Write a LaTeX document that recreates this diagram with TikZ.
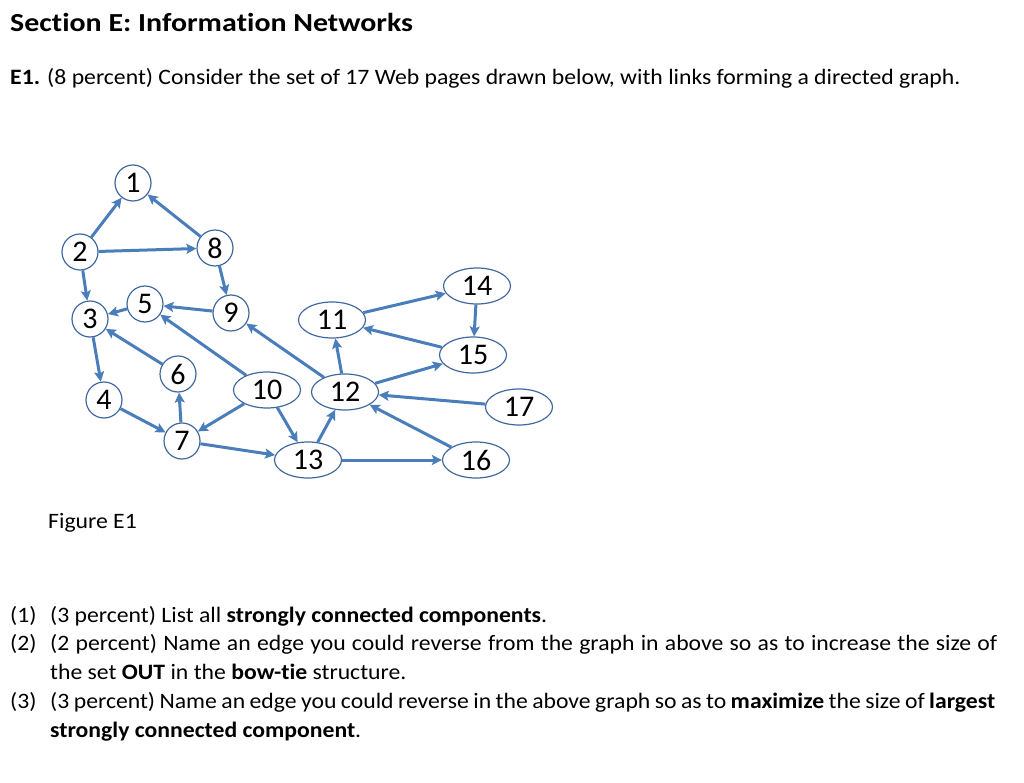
\documentclass[tikz,border=0pt]{standalone}
\usepackage{fontspec}
\setmainfont{Carlito}[FakeStretch=1.077,Ligatures=CommonOff]
\newfontfamily\headfont{Carlito}[FakeStretch=1.15,Ligatures=CommonOff]
\newfontfamily\digitfont{Carlito}
\usetikzlibrary{arrows.meta,shapes.geometric}
\definecolor{linkblue}{RGB}{74,126,187}
\definecolor{rimblue}{RGB}{65,105,160}
\tikzset{
  pagecirc/.style={circle, draw=rimblue, line width=1.2pt, fill=white,
    minimum size=36pt, inner sep=0pt, font=\digitfont\fontsize{30}{30}\selectfont},
  pageell/.style={ellipse, draw=rimblue, line width=1.2pt, fill=white,
    minimum width=67pt, minimum height=36pt, inner sep=0pt, font=\digitfont\fontsize{30}{30}\selectfont},
  link/.style={draw=linkblue, line width=3pt, -{Stealth[length=10pt,width=10pt,inset=2pt]}},
  txt/.style={anchor=base west, inner sep=0pt, font=\fontsize{22}{26}\selectfont}
}
\begin{document}
\begin{tikzpicture}[x=1pt,y=-1pt]
  \useasboundingbox[fill=white] (0,0) rectangle (1024,783);

  % Heading and question
  \node[txt, font=\headfont\fontsize{26}{30}\selectfont\bfseries] (title) at (10,32) {Section E: Informa\kern0pt tion Networks};
  \node[txt] (intro) at (10,85) {\textbf{E1.} (8 percent) Consider the set of 17 Web pages drawn below, with links forming a directed graph.};

  % Pages
  \node[pagecirc] (n1) at (133,183) {1};
  \node[pagecirc] (n2) at (80,252) {2};
  \node[pagecirc] (n8) at (215,248) {8};
  \node[pagecirc] (n3) at (90,319) {3};
  \node[pagecirc] (n5) at (145,304) {5};
  \node[pagecirc] (n9) at (231,313) {9};
  \node[pagecirc] (n4) at (104,400) {4};
  \node[pagecirc] (n6) at (178,374) {6};
  \node[pagecirc] (n7) at (182,441) {7};
  \node[pageell] (n10) at (267,390) {10};
  \node[pageell] (n11) at (332,320) {11};
  \node[pageell] (n12) at (345,392) {12};
  \node[pageell] (n13) at (308,460) {13};
  \node[pageell] (n14) at (477,286) {14};
  \node[pageell] (n15) at (473,355) {15};
  \node[pageell] (n16) at (476,460) {16};
  \node[pageell] (n17) at (519,407) {17};

  % Links
  \foreach \s/\t in {2/1, 8/1, 2/8, 2/3, 8/9, 9/5, 5/3, 6/3, 10/5, 3/4, 4/7,
      7/6, 10/7, 10/13, 7/13, 12/9, 13/12, 12/11, 12/15, 11/14, 14/15,
      15/11, 17/12, 16/12, 13/16}
    \draw[link] (n\s) -- (n\t);

  % Caption
  \node[txt] (cap) at (48,528) {Figure E1};

  % Parts
  \node[txt] (q1) at (10,622) {\makebox[40pt][l]{(1)}(3 percent) List all \textbf{strongly connected components}.};
  \node[txt] (q2) at (10,650) {\makebox[40pt][l]{(2)}\makebox[947pt][s]{(2 percent) Name an edge you could reverse from the graph in above so as to increase the size of}};
  \node[txt] (q2b) at (50,679) {the set \textbf{OUT} in the \textbf{bow-tie} structure.};
  \node[txt] (q3) at (10,708) {\makebox[40pt][l]{(3)}\makebox[945pt][s]{(3 percent) Name an edge you could reverse in the above graph so as to \textbf{maximize} the size of \textbf{largest}}};
  \node[txt] (q3b) at (50,737) {\textbf{strongly connected component}.};
\end{tikzpicture}
\end{document}
